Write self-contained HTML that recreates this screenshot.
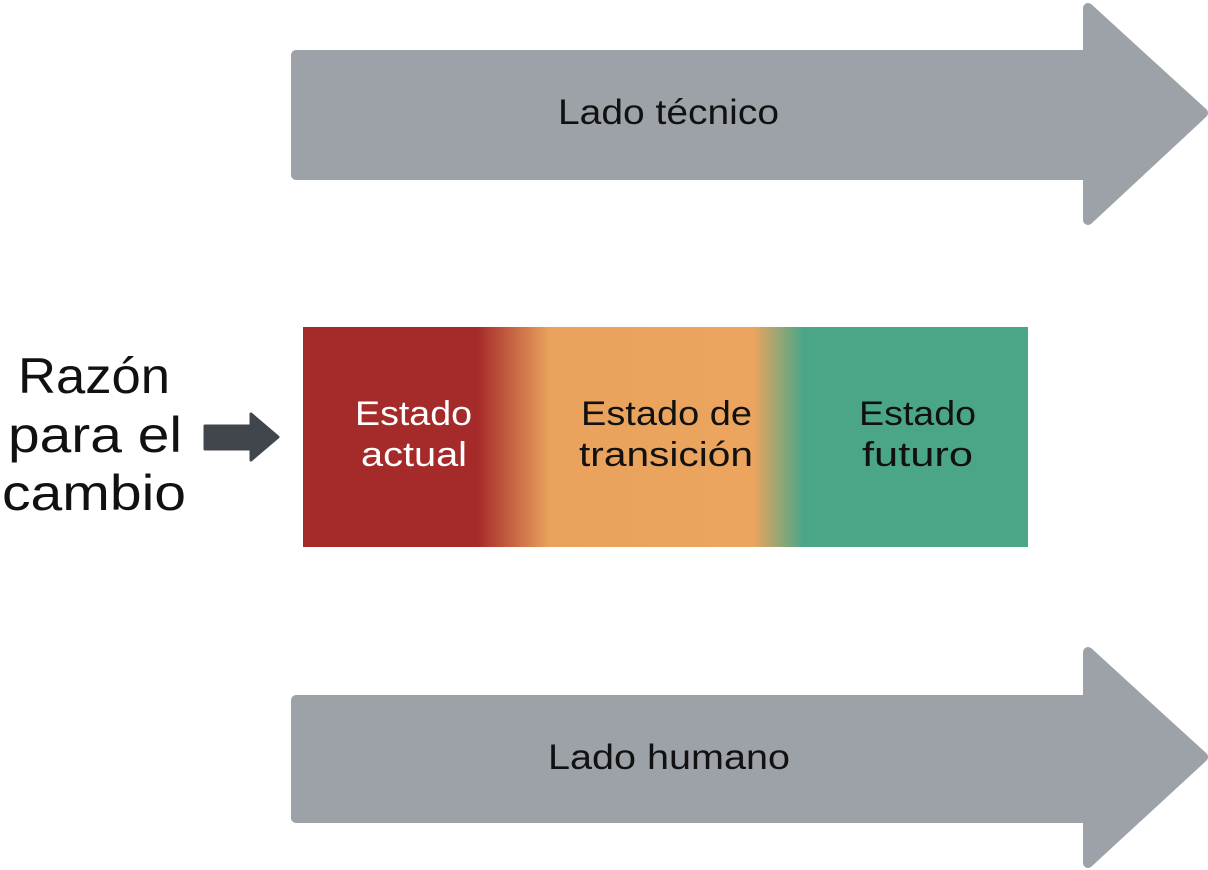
<!DOCTYPE html>
<html><head><meta charset="utf-8"><style>
html,body{margin:0;padding:0;background:#fff;}
svg{display:block;}
text{font-family:"Liberation Sans",sans-serif;}
</style></head><body>
<svg width="1208" height="870" viewBox="0 0 1208 870" xmlns="http://www.w3.org/2000/svg">
<defs>
<linearGradient id="g" x1="0" x2="1" y1="0" y2="0">
<stop offset="0" stop-color="#a52a2a"/>
<stop offset="0.24" stop-color="#a52a2a"/>
<stop offset="0.34" stop-color="#e9a25c"/>
<stop offset="0.62" stop-color="#eca55e"/>
<stop offset="0.69" stop-color="#4ba688"/>
<stop offset="1" stop-color="#4ba688"/>
</linearGradient>
</defs>
<g fill="#9da1a8" stroke="#9da1a8" stroke-width="10" stroke-linejoin="round">
<path d="M296 55 H1088 V8 L1203 113 L1088 220 V175 H296 Z"/>
<path d="M296 700 H1088 V652 L1203 757 L1088 863 V818 H296 Z"/>
</g>
<text x="558" y="124" font-size="35" textLength="221" lengthAdjust="spacingAndGlyphs" fill="#111">Lado técnico</text>
<text x="548" y="769" font-size="35" textLength="242" lengthAdjust="spacingAndGlyphs" fill="#111">Lado humano</text>
<rect x="303" y="327" width="725" height="220" fill="url(#g)"/>
<g font-size="34">
<text x="355" y="425" textLength="117" lengthAdjust="spacingAndGlyphs" fill="#fff">Estado</text>
<text x="361" y="466" textLength="106" lengthAdjust="spacingAndGlyphs" fill="#fff">actual</text>
<text x="581" y="425" textLength="171" lengthAdjust="spacingAndGlyphs" fill="#111">Estado de</text>
<text x="579" y="466" textLength="174" lengthAdjust="spacingAndGlyphs" fill="#111">transición</text>
<text x="859" y="425" textLength="117" lengthAdjust="spacingAndGlyphs" fill="#111">Estado</text>
<text x="862" y="466" textLength="111" lengthAdjust="spacingAndGlyphs" fill="#111">futuro</text>
</g>
<g font-size="50" fill="#111">
<text x="18" y="393" textLength="152" lengthAdjust="spacingAndGlyphs">Razón</text>
<text x="8" y="452" textLength="174" lengthAdjust="spacingAndGlyphs">para el</text>
<text x="2" y="510" textLength="184" lengthAdjust="spacingAndGlyphs">cambio</text>
</g>
<path d="M205 426 H251 V414 L278 437 L251 460 V449 H205 Z" fill="#41464d" stroke="#41464d" stroke-width="3" stroke-linejoin="round"/>
</svg>
</body></html>
